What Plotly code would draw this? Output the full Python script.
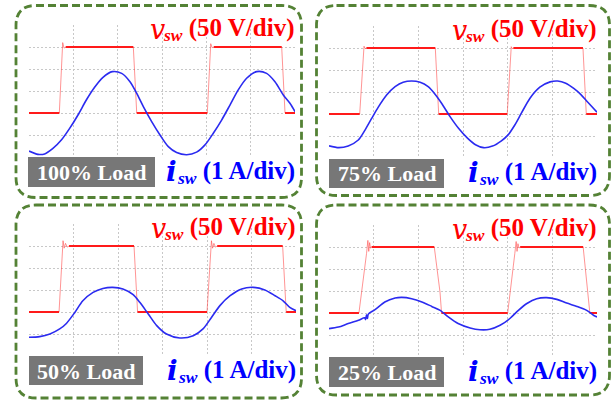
import plotly.graph_objects as go

W, H = 616, 404

# ---------------- data (time and amplitude in scope divisions) ----------------
load_labels = ["100% Load", "75% Load", "50% Load", "25% Load"]
vsw_label = "(50 V/div)"
isw_label = "(1 A/div)"

# v_sw traces (divisions, 50 V/div)
t_vsw_100 = [0, 0.684, 0.76, 0.79, 0.83, 2.353, 2.43, 4.022, 4.099, 4.13, 4.17, 5.70, 5.775, 6.0]
vsw_100 = [0, 0, 3.2, 2.95, 3, 3, 0, 0, 3.15, 2.97, 3, 3, 0, 0]

t_vsw_75 = [0, 0.687, 0.784, 0.81, 0.84, 2.38, 2.456, 3.99, 4.08, 4.10, 4.13, 5.686, 5.76, 6.0]
vsw_75 = [0, 0, 3.08, 2.97, 3, 3, 0, 0, 3.06, 2.97, 3, 3, 0, 0]

t_vsw_50 = [0, 0.675, 0.765, 0.79, 0.82, 0.86, 0.9, 2.36, 2.44, 4.0, 4.10, 4.125, 4.155, 4.19, 4.23, 5.70, 5.78, 6.0]
vsw_50 = [0, 0, 3.24, 2.9, 3.12, 2.95, 3, 3, 0, 0, 3.24, 2.9, 3.12, 2.95, 3, 3, 0, 0]

t_vsw_25 = [0, 0.67, 0.84, 0.87, 0.89, 0.91, 0.93, 0.956, 2.357, 2.485, 2.52, 4.0, 4.16, 4.19, 4.21, 4.23, 4.255, 4.28, 5.69, 5.80, 5.84, 6.0]
vsw_25 = [0, 0, 2.7, 3.3, 2.8, 3.2, 2.95, 3, 3, 0.95, 0, 0, 2.7, 3.25, 2.8, 3.15, 2.95, 3, 3, 0.73, 0, 0]

# i_sw traces (divisions, 1 A/div)
t_isw_100 = [0, 0.203, 0.353, 0.54, 0.729, 0.917, 1.105, 1.293, 1.48, 1.669, 1.88, 2.09, 2.278, 2.43,
             2.579, 2.767, 2.955, 3.143, 3.33, 3.557, 3.78, 3.97, 4.157, 4.345, 4.533, 4.72, 4.908,
             5.134, 5.36, 5.548, 5.736, 5.886, 6.0]
isw_100 = [-1.73, -1.88, -1.86, -1.61, -1.23, -0.70, -0.09, 0.59, 1.17, 1.62, 1.88, 1.80, 1.42, 0.89,
           0.29, -0.39, -1.0, -1.53, -1.80, -1.9, -1.78, -1.45, -0.92, -0.32, 0.36, 1.05, 1.58,
           1.88, 1.80, 1.42, 0.82, 0.44, 0.06]

t_isw_75 = [0, 0.22, 0.43, 0.656, 0.806, 0.955, 1.10, 1.29, 1.48, 1.66, 1.85, 2.04, 2.22, 2.37, 2.52,
            2.71, 2.9, 3.1, 3.28, 3.46, 3.66, 3.86, 4.01, 4.16, 4.31, 4.50, 4.72, 4.95, 5.12, 5.30,
            5.48, 5.64, 5.80, 6.0]
isw_75 = [-1.45, -1.53, -1.45, -1.18, -0.73, -0.20, 0.30, 0.86, 1.24, 1.44, 1.50, 1.44, 1.24, 0.91, 0.49,
          -0.12, -0.65, -1.1, -1.4, -1.53, -1.46, -1.22, -0.95, -0.5, 0.05, 0.72, 1.22, 1.46, 1.50, 1.40,
          1.16, 0.88, 0.52, 0.08]

t_isw_50 = [0, 0.24, 0.47, 0.69, 0.84, 1.03, 1.21, 1.44, 1.66, 1.88, 2.11, 2.34, 2.49, 2.68, 2.87,
            3.09, 3.39, 3.69, 3.91, 4.10, 4.29, 4.52, 4.78, 5.04, 5.30, 5.53, 5.71, 5.86, 6.0]
isw_50 = [-1.15, -1.12, -1.0, -0.77, -0.52, -0.02, 0.51, 0.89, 1.07, 1.12, 1.05, 0.79, 0.44, -0.09, -0.62,
          -1.0, -1.18, -1.08, -0.77, -0.25, 0.29, 0.74, 1.05, 1.12, 1.0, 0.74, 0.51, 0.21, 0.06]

t_isw_25 = [0, 0.21, 0.43, 0.66, 0.80, 0.82, 0.84, 0.86, 0.88, 1.03, 1.25, 1.48, 1.63, 1.85, 2.08, 2.30,
            2.49, 2.67, 2.89, 3.16, 3.38, 3.60, 3.83, 4.05, 4.24, 4.43, 4.65, 4.87, 5.10, 5.32,
            5.55, 5.77, 5.92, 6.0]
isw_25 = [-0.71, -0.64, -0.48, -0.33, -0.22, -0.3, -0.08, -0.25, -0.05, 0.15, 0.5, 0.68, 0.71, 0.65, 0.5, 0.30,
          0.12, -0.18, -0.48, -0.68, -0.76, -0.74, -0.56, -0.25, 0.12, 0.43, 0.65, 0.70, 0.62, 0.45,
          0.30, 0.12, -0.1, -0.18]

vsw_data = [(t_vsw_100, vsw_100), (t_vsw_75, vsw_75), (t_vsw_50, vsw_50), (t_vsw_25, vsw_25)]
isw_data = [(t_isw_100, isw_100), (t_isw_75, isw_75), (t_isw_50, isw_50), (t_isw_25, isw_25)]

# ---------------- layout geometry (pixels) ----------------
PLOT = [(29, 25, 295, 157), (329, 26, 597, 158), (29, 224, 296, 356), (329, 225, 597, 357)]
BOX = [(16, 5.5, 301.5, 197.5), (316.5, 5.5, 609.5, 195.5), (16, 205, 301.5, 398), (316.5, 205, 609.5, 395)]
TAG = [(28, 157, 155, 187), (329, 159, 444, 188), (29, 356, 143, 385), (329, 357, 444, 387)]

RED = "#ff1a1a"
BLUE = "#2b2bf0"
GREEN = "#548235"
SERIF = "Liberation Serif"


def px(x):
    return x / W


def py(y):
    return 1 - y / H


def rrect_path(x0, y0, x1, y1, r):
    pts = [("M", [(x0 + r, y0)]), ("L", [(x1 - r, y0)]), ("Q", [(x1, y0), (x1, y0 + r)]),
           ("L", [(x1, y1 - r)]), ("Q", [(x1, y1), (x1 - r, y1)]), ("L", [(x0 + r, y1)]),
           ("Q", [(x0, y1), (x0, y1 - r)]), ("L", [(x0, y0 + r)]), ("Q", [(x0, y0), (x0 + r, y0)])]
    s = ""
    for cmd, ps in pts:
        s += cmd + " " + " ".join(f"{px(a):.5f},{py(b):.5f}" for a, b in ps) + " "
    return s + "Z"


def flat_segments(t, v):
    xs, ys = [], []
    for i in range(len(t) - 1):
        if v[i] == v[i + 1]:
            xs += [t[i], t[i + 1], None]
            ys += [v[i], v[i + 1], None]
    return xs, ys


fig = go.Figure()
layout_axes = {}
shapes = []
annotations = []


def note(x, y, text, size, color, family=SERIF, xanchor="right"):
    annotations.append(dict(xref="paper", yref="paper", x=px(x), y=py(y), xanchor=xanchor,
                            yanchor="middle", showarrow=False, text=text,
                            font=dict(family=family, size=size, color=color)))


for k in range(4):
    x0, y0, x1, y1 = PLOT[k]
    sfx = "" if k == 0 else str(k + 1)
    xa, ya = "x" + sfx, "y" + sfx
    grid = dict(showgrid=True, gridcolor="#c8c8c8", griddash="2px,2px", gridwidth=1,
                zeroline=False, showticklabels=False, ticks="", showline=False, dtick=1, tick0=0)
    layout_axes["xaxis" + sfx] = dict(domain=[px(x0), px(x1)], range=[0, 6], anchor=ya, **grid)
    layout_axes["yaxis" + sfx] = dict(domain=[py(y1), py(y0)], range=[-2, 4], anchor=xa, **grid)

    tv, vv = vsw_data[k]
    ti, ii = isw_data[k]
    fig.add_trace(go.Scatter(x=tv, y=vv, mode="lines", xaxis=xa, yaxis=ya,
                             line=dict(color="rgba(255,60,60,0.55)", width=1), hoverinfo="skip"))
    fx, fy = flat_segments(tv, vv)
    fig.add_trace(go.Scatter(x=fx, y=fy, mode="lines", xaxis=xa, yaxis=ya,
                             line=dict(color=RED, width=2), hoverinfo="skip"))
    fig.add_trace(go.Scatter(x=ti, y=ii, mode="lines", xaxis=xa, yaxis=ya,
                             line=dict(color=BLUE, width=1.6, shape="spline", smoothing=0.8),
                             hoverinfo="skip"))

    bx0, by0, bx1, by1 = BOX[k]
    shapes.append(dict(type="path", xref="paper", yref="paper", path=rrect_path(bx0, by0, bx1, by1, 20),
                       line=dict(color=GREEN, width=2.8, dash="8px,4px"), fillcolor="rgba(0,0,0,0)",
                       layer="above"))
    tx0, ty0, tx1, ty1 = TAG[k]
    shapes.append(dict(type="rect", xref="paper", yref="paper", x0=px(tx0), x1=px(tx1), y0=py(ty1), y1=py(ty0),
                       fillcolor="#777777", line=dict(width=0), layer="above"))
    note((tx0 + tx1) / 2, (ty0 + ty1) / 2 + 0.5, "<b>" + load_labels[k] + "</b>", 22, "white",
         xanchor="center")

    # v_sw label: subscript + scale, then a large italic "v" in front
    note(x1 + 2, y0 + 5, "<b><i><sub>sw</sub></i> " + vsw_label + "</b>", 25, "#ff0000")
    note(x1 + 2 - 130, y0 + 5, "<i>v</i>", 27, "#ff0000", family="DejaVu Serif")
    # i_sw label
    icy = (ty0 + ty1) / 2 + 0.5
    note(x1 + 2, icy, "<b><i><sub>sw</sub></i> " + isw_label + "</b>", 25, "#0000ff")
    note(x1 + 2 - 118, icy - 1, "<b><i>i</i></b>", 28, "#0000ff", family="DejaVu Serif")

fig.update_layout(width=W, height=H, margin=dict(l=0, r=0, t=0, b=0), showlegend=False,
                  paper_bgcolor="white", plot_bgcolor="white", shapes=shapes, annotations=annotations,
                  **layout_axes)

fig.write_html("out.html", config={"displayModeBar": False})
